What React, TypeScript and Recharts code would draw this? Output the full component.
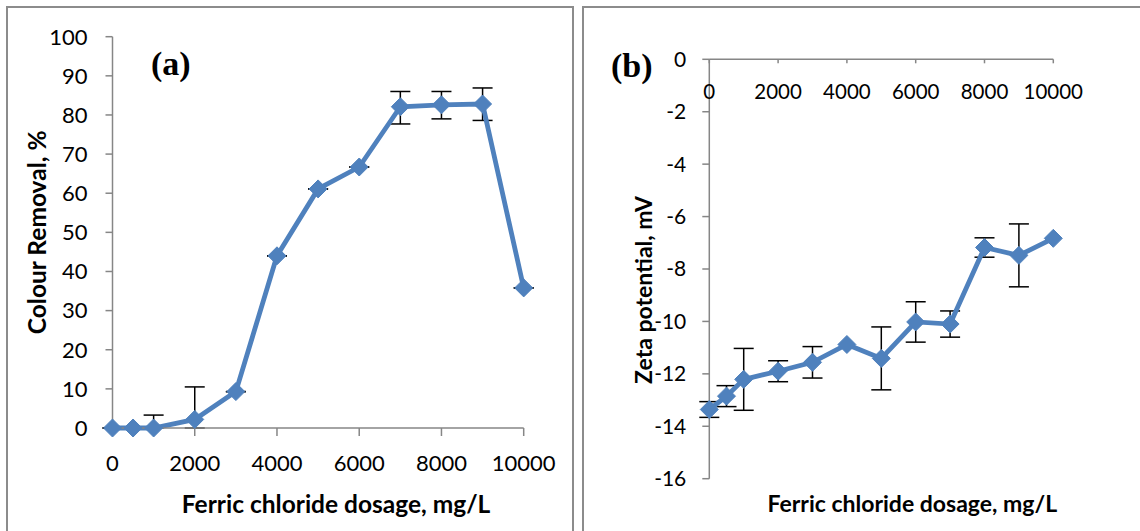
import React from 'react';
import { LineChart, Line, XAxis, YAxis, ErrorBar } from 'recharts';

const doses = [0, 500, 1000, 2000, 3000, 4000, 5000, 6000, 7000, 8000, 9000, 10000];
const colourRemoval = [0, 0, 0, 2.2, 9.3, 44.0, 61.1, 66.7, 82.1, 82.6, 82.8, 35.8];
const colourErrLow = [0, 0, 0, 2.2, 0, 0, 0, 0, 4.4, 3.6, 4.2, 0];
const colourErrHigh = [0, 0, 3.3, 8.3, 0, 0, 0, 0, 3.9, 3.4, 4.1, 0];
const zeta = [-13.36, -12.85, -12.21, -11.9, -11.56, -10.88, -11.41, -10.02, -10.1, -7.18, -7.48, -6.83];
const zetaErr = [0.3, 0.4, 1.18, 0.4, 0.6, 0, 1.2, 0.77, 0.5, 0.37, 1.2, 0];

const doseTicks = [0, 2000, 4000, 6000, 8000, 10000];
const removalTicks = [0, 10, 20, 30, 40, 50, 60, 70, 80, 90, 100];
const zetaTicks = [-16, -14, -12, -10, -8, -6, -4, -2, 0];

const BLUE = '#4F81BD';
const AXIS = '#868686';

const removalData = doses.map((dose, i) => ({
  dose,
  value: colourRemoval[i],
  err: [colourErrLow[i], colourErrHigh[i]],
}));
const zetaData = doses.map((dose, i) => ({ dose, value: zeta[i], err: zetaErr[i] }));

const Diamond = (props: any) => {
  const { cx, cy } = props;
  if (cx == null || cy == null) return null;
  const r = 9;
  return (
    <polygon
      points={`${cx},${cy - r} ${cx + r},${cy} ${cx},${cy + r} ${cx - r},${cy}`}
      fill={BLUE}
      stroke={BLUE}
      strokeWidth={1}
    />
  );
};

const titleStyle = { fontWeight: 700, fill: '#000' };

export default function App() {
  return (
    <div
      style={{
        position: 'absolute',
        left: 0,
        top: 0,
        width: 1140,
        height: 531,
        background: '#fff',
        fontFamily: 'Lato, sans-serif',
        overflow: 'hidden',
      }}
    >
      <svg
        width={1140}
        height={531}
        style={{ position: 'absolute', left: 0, top: 0, pointerEvents: 'none' }}
      >
        <path d="M7 531 V7 H573 V531" fill="none" stroke="#8c8c8c" strokeWidth={2} />
        <path d="M583 531 V7 H1140" fill="none" stroke="#8c8c8c" strokeWidth={2} />
        <text x={151} y={75} fontFamily="'Liberation Serif', serif" fontWeight={700} fontSize={34}>
          (a)
        </text>
        <text x={611} y={77} fontFamily="'Liberation Serif', serif" fontWeight={700} fontSize={34}>
          (b)
        </text>
      </svg>

      <div style={{ position: 'absolute', left: 0, top: 0 }}>
        <LineChart
          width={573}
          height={531}
          data={removalData}
          margin={{ top: 36.7, right: 49.3, left: 0, bottom: 0 }}
        >
          <XAxis
            dataKey="dose"
            type="number"
            domain={[0, 10000]}
            ticks={doseTicks}
            height={103}
            stroke={AXIS}
            strokeWidth={1.5}
            tickSize={8}
            tickMargin={19}
            tick={{ fontSize: 22, fill: '#000' }}
            label={{
              value: 'Ferric chloride dosage, mg/L',
              position: 'insideBottom',
              offset: 18,
              dx: 18,
              fontSize: 24.5,
              style: titleStyle,
            }}
          />
          <YAxis
            type="number"
            domain={[0, 100]}
            ticks={removalTicks}
            width={112.5}
            stroke={AXIS}
            strokeWidth={1.5}
            tickSize={7}
            tickMargin={18}
            tick={{ fontSize: 22, fill: '#000' }}
            label={{
              value: 'Colour Removal, %',
              angle: -90,
              position: 'center',
              dx: -18.5,
              fontSize: 24.5,
              style: titleStyle,
            }}
          />
          <Line
            dataKey="value"
            stroke={BLUE}
            strokeWidth={4.8}
            dot={<Diamond />}
            activeDot={false}
            isAnimationActive={false}
          >
            <ErrorBar dataKey="err" width={10} stroke="#000" strokeWidth={1.5} direction="y" />
          </Line>
        </LineChart>
      </div>

      <div style={{ position: 'absolute', left: 583, top: 0 }}>
        <LineChart
          width={557}
          height={531}
          data={zetaData}
          margin={{ top: 59.3, right: 86.7, left: 0, bottom: 0 }}
        >
          <XAxis
            dataKey="dose"
            type="number"
            domain={[0, 10000]}
            ticks={doseTicks}
            orientation="top"
            mirror
            stroke={AXIS}
            strokeWidth={1.5}
            tickSize={4}
            tickMargin={21}
            tick={{ fontSize: 20.5, fill: '#000' }}
          />
          <XAxis
            xAxisId="title"
            dataKey="dose"
            type="number"
            domain={[0, 10000]}
            height={52.3}
            axisLine={false}
            tickLine={false}
            tick={false}
            label={{
              value: 'Ferric chloride dosage, mg/L',
              position: 'insideBottom',
              offset: 19,
              dx: 31,
              fontSize: 23,
              style: titleStyle,
            }}
          />
          <YAxis
            type="number"
            domain={[-16, 0]}
            ticks={zetaTicks}
            width={126.3}
            stroke={AXIS}
            strokeWidth={1.5}
            tickSize={7}
            tickMargin={16}
            tick={{ fontSize: 21, fill: '#000' }}
            label={{
              value: 'Zeta potential, mV',
              angle: -90,
              position: 'center',
              dx: -2,
              dy: 21,
              fontSize: 23,
              style: titleStyle,
            }}
          />
          <Line
            dataKey="value"
            stroke={BLUE}
            strokeWidth={4.8}
            dot={<Diamond />}
            activeDot={false}
            isAnimationActive={false}
          >
            <ErrorBar dataKey="err" width={10} stroke="#000" strokeWidth={1.5} direction="y" />
          </Line>
        </LineChart>
      </div>
    </div>
  );
}
